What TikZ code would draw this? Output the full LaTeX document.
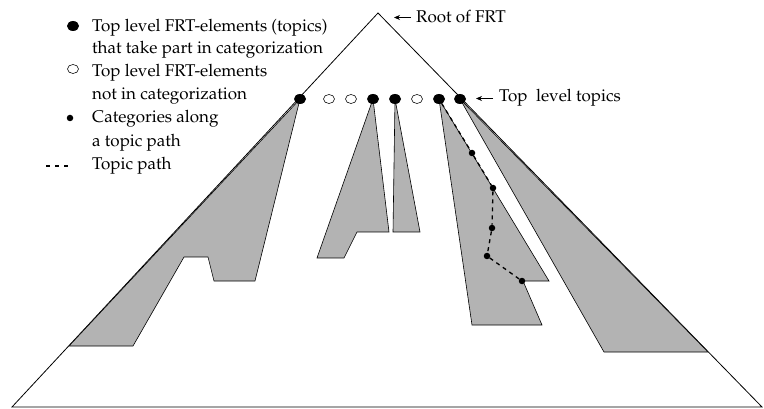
\documentclass[tikz,border=0pt]{standalone}
\usepackage[T1]{fontenc}
\usepackage{mathpazo}
\usetikzlibrary{arrows.meta,shapes.geometric}
\definecolor{treegray}{RGB}{179,179,179}

\begin{document}
\begin{tikzpicture}[x=1pt,y=-1pt,
  txt/.style={font=\fontsize{17}{23}\selectfont, anchor=base west, inner sep=0pt},
  topic/.style={ellipse, fill=black, minimum width=12pt, minimum height=10pt, inner sep=0pt},
  other/.style={ellipse, draw=black, line width=0.6pt, fill=white, minimum width=11pt, minimum height=9pt, inner sep=0pt},
  cat/.style={circle, fill=black, minimum size=6.5pt, inner sep=0pt},
  subtree/.style={fill=treegray, draw=black, line width=0.6pt, line join=miter},
  topicpath/.style={line width=1.3pt, dash pattern=on 4pt off 4pt},
  pointer/.style={-{Stealth[length=6pt,width=5pt]}, line width=0.7pt}
]
\useasboundingbox (0,0) rectangle (764,409);

% the full FRT triangle
\coordinate (apex) at (378,13);
\coordinate (bl) at (12,407);
\coordinate (br) at (762,407);
\draw[line width=0.8pt] (apex) -- (bl) -- (br) -- cycle;

% subtrees below the top level topics
\filldraw[subtree] (300,99) -- (69,346) -- (133,346) -- (184,257) -- (208,257)
  -- (214,281) -- (255,281) -- cycle;
\filldraw[subtree] (373,99) -- (317,258) -- (344,258) -- (357,232) -- (389,232) -- cycle;
\filldraw[subtree] (395,99) -- (393,232) -- (420,232) -- cycle;
\filldraw[subtree] (439,99) -- (472,325) -- (542,325) -- (523,281) -- (549,281) -- cycle;
\filldraw[subtree] (460,99) -- (604,352) -- (708,352) -- cycle;

% top level FRT elements
\node[topic] (t1) at (300,99) {};
\node[other] (o1) at (329,99) {};
\node[other] (o2) at (351,99) {};
\node[topic] (t2) at (373,99) {};
\node[topic] (t3) at (395,99) {};
\node[other] (o3) at (417,99) {};
\node[topic] (t4) at (439,99) {};
\node[topic] (t5) at (460,99) {};

% categories along one topic path
\node[cat] (c1) at (472,153) {};
\node[cat] (c2) at (493,188) {};
\node[cat] (c3) at (492,228) {};
\node[cat] (c4) at (487,256) {};
\node[cat] (c5) at (522,281) {};
\draw[topicpath] (t4) -- (c1) -- (c2) -- (c3) -- (c4) -- (c5);

% pointers with their labels
\node[txt] (rootlbl) at (416,23) {Root of FRT};
\coordinate (roottip) at (394,17.5);
\draw[pointer] (411,17.5) -- (roottip);
\node[txt] (toplbl) at (499,102) {Top\ \ level topics};
\coordinate (toptip) at (476,98.5);
\draw[pointer] (493,98.5) -- (toptip);

% legend
\node[topic] (k1) at (73,26) {};
\node[txt] (k1a) at (92,31.5) {Top level FRT-elements (topics)};
\node[txt] (k1b) at (92,53.5) {that take part in categorization};
\node[other] (k2) at (73,69) {};
\node[txt] (k2a) at (92,77) {Top level FRT-elements};
\node[txt] (k2b) at (92,100) {not in categorization};
\node[cat] (k3) at (70,118) {};
\node[txt] (k3a) at (92,123) {Categories along};
\node[txt] (k3b) at (92,147) {a topic path};
\coordinate (k4s) at (46,166);
\coordinate (k4e) at (68,166);
\draw[line width=1.2pt, dash pattern=on 4pt off 5pt] (k4s) -- (k4e);
\node[txt] (k4a) at (92,170) {Topic path};
\end{tikzpicture}
\end{document}
